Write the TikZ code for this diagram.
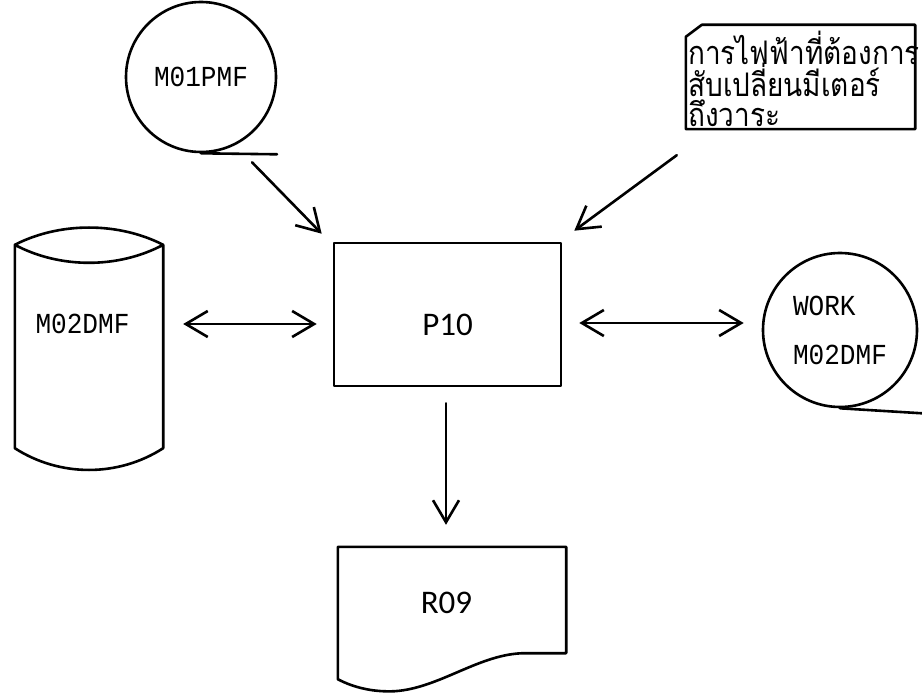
\documentclass[tikz,border=0pt]{standalone}
\usepackage{fontspec}
\usetikzlibrary{arrows.meta,calc}
\newfontfamily\thaifont[Script=Thai, FakeStretch=0.86]{Loma}
\newfontfamily\monof[FakeStretch=0.9]{Liberation Mono}
\newfontfamily\propf{Carlito}

\tikzset{
  ink/.style={line width=2.6pt, line cap=round, line join=round},
  box/.style={ink, draw, rectangle, inner sep=0pt},
  disk/.style={ink, draw, circle, inner sep=0pt},
  ghost/.style={rectangle, inner sep=0pt},
  monolbl/.style={font=\monof\fontsize{29}{34}\selectfont, inner sep=0pt},
  proplbl/.style={font=\propf\fontsize{33}{38}\selectfont, inner sep=0pt},
  thailbl/.style={font=\thaifont\fontsize{32.5}{31}\selectfont, inner sep=0pt, anchor=base west},
  flow/.style={ink, -{Straight Barb[length=22pt,width=26pt]}},
  both/.style={ink, {Straight Barb[length=22pt,width=26pt]}-{Straight Barb[length=22pt,width=26pt]}},
}

\begin{document}
\begin{tikzpicture}[x=1pt, y=-1pt]
\useasboundingbox (0,0) rectangle (922,695);

% process box
\node[box, minimum width=227pt, minimum height=143pt] (p10) at (447.5,314.5) {};
\node[proplbl] (p10txt) at (447.5,325) {P10};

% master file on tape (top left)
\node[disk, minimum size=150pt, monolbl] (m01) at (201,77) {M01PMF};
\draw[ink] (m01.south) -- ++(76,1);

% disk file (left)
\node[ghost, minimum width=148pt, minimum height=203pt] (m02) at (89,346.5) {};
\draw[ink] (m02.north west) .. controls +(45,-23) and +(-45,-23) .. (m02.north east)
                            .. controls +(-45,24) and +(45,24) .. (m02.north west)
                            -- (m02.south west)
                            .. controls +(45,29) and +(-45,29) .. (m02.south east)
                            -- (m02.north east);
\node[monolbl] (m02txt) at (82.5,324) {M02DMF};

% work file on tape (right)
\node[disk, minimum size=154pt, monolbl, align=left, font=\monof\fontsize{29}{49}\selectfont] (work) at (840,330) {WORK\\M02DMF};
\draw[ink] (work.south) -- ++(82,5);

% card input (top right)
\node[ghost, minimum width=229pt, minimum height=104pt] (card) at (800.5,77) {};
\draw[ink] ($(card.north west)+(0,12)$) -- ($(card.north west)+(16,0)$)
           -- (card.north east) -- (card.south east) -- (card.south west) -- cycle;
\node[thailbl] (cardl1) at (688,65) {การไฟฟ้าที่ต้องการ};
\node[thailbl] (cardl2) at (688,97) {สับเปลี่ยนมีเตอร์};
\node[thailbl] (cardl3) at (688,127) {ถึงวาระ};

% report (bottom)
\node[ghost, minimum width=228pt, minimum height=106pt] (r09) at (452,600) {};
\draw[ink] (r09.south east) -- (r09.north east) -- (r09.north west) -- ($(r09.south west)+(0,26)$)
           .. controls +(17,9) and +(-20,1) .. ($(r09.south west)+(57,38)$)
           .. controls +(45,-3) and +(-45,0) .. ($(r09.south east)+(-41,0)$)
           -- (r09.south east);
\node[proplbl] (r09txt) at (446.5,602.5) {R09};

% connectors
\draw[flow] ($(m01.south)+(51,9)$) -- ($(p10.north west)+(-11,-8)$);
\draw[flow] ($(card.south west)+(-9,26)$) -- ($(p10.north east)+(12,-11)$);
\draw[both, shorten <=20pt, shorten >=16pt] (m02txt -| m02.east) -- (m02txt -| p10.west);
\coordinate (rowR) at (0,323);
\draw[both, shorten <=17pt, shorten >=18pt] (p10.east |- rowR) -- (work.west |- rowR);
\draw[flow, shorten <=16pt, shorten >=22pt] ([xshift=-1.5pt]p10.south) -- ([xshift=-1.5pt]p10.south |- r09.north);
\end{tikzpicture}
\end{document}
